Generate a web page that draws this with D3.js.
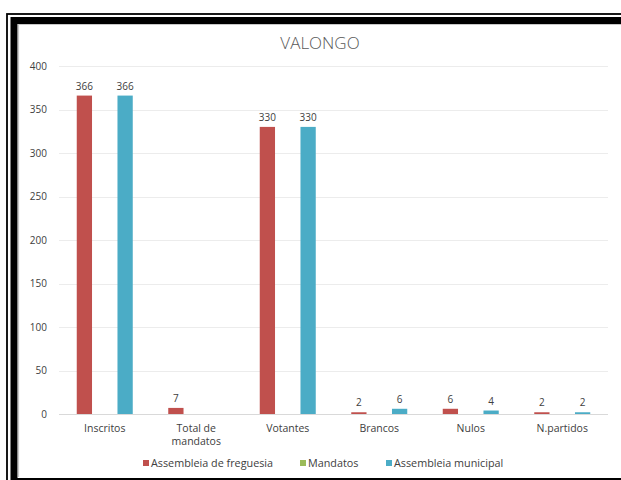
<!DOCTYPE html>
<html><head><meta charset="utf-8">
<script src="https://cdn.jsdelivr.net/npm/d3@7"></script>
<style>body{margin:0;background:#fff}svg{display:block}text{font-family:"Open Sans",sans-serif}</style>
</head><body><svg id="c" width="621" height="480"></svg>
<script>
const categories = ["Inscritos", "Total de mandatos", "Votantes", "Brancos", "Nulos", "N.partidos"];
const seriesNames = ["Assembleia de freguesia", "Mandatos", "Assembleia municipal"];
const assembleiaFreguesia = [366, 7, 330, 2, 6, 2];
const mandatos = [null, null, null, null, null, null];
const assembleiaMunicipal = [366, null, 330, 6, 4, 2];
const yTicks = [0, 50, 100, 150, 200, 250, 300, 350, 400];
const colors = ["#C0504D", "#9BBB59", "#4BACC6"];
const seriesValues = [assembleiaFreguesia, mandatos, assembleiaMunicipal];

const svg = d3.select("#c");
// frame
svg.append("rect").attr("x",7).attr("y",14).attr("width",700).attr("height",600)
  .attr("fill","none").attr("stroke","#000").attr("stroke-width",1.8);
svg.append("rect").attr("x",14).attr("y",20.5).attr("width",700).attr("height",461)
  .attr("fill","#fff").attr("stroke","#000").attr("stroke-width",7);
svg.append("line").attr("x1",18.5).attr("x2",18.5).attr("y1",24).attr("y2",477).attr("stroke","#c8c8c8").attr("stroke-width",1.2);
svg.append("line").attr("x1",18).attr("x2",621).attr("y1",24.5).attr("y2",24.5).attr("stroke","#c8c8c8").attr("stroke-width",1.2);

const plotLeft = 59, plotRight = 608, plotTop = 66, plotBottom = 414;
const x = d3.scaleBand().domain(categories).range([plotLeft, plotRight]);
const y = d3.scaleLinear().domain([0, 400]).range([plotBottom, plotTop]);
const x1 = d3.scaleBand().domain(seriesNames).range([-28, 28]).paddingInner(0.25).paddingOuter(0);

// grid
svg.append("g").selectAll("line").data(yTicks).join("line")
  .attr("x1", plotLeft).attr("x2", plotRight)
  .attr("y1", d => Math.round(y(d)) + 0.5).attr("y2", d => Math.round(y(d)) + 0.5)
  .attr("stroke", d => d === 0 ? "#d9d9d9" : "#ececec").attr("stroke-width", 1);

const yAxis = svg.append("g").attr("transform", `translate(${plotLeft},0)`)
  .call(d3.axisLeft(y).tickValues(yTicks).tickSize(0).tickPadding(12));
yAxis.select(".domain").remove();
yAxis.selectAll("text").attr("fill", "#404040").style("font-size", "10px").style("font-family","'Open Sans',sans-serif");

// title
svg.append("text").attr("x", 320).attr("y", 49).attr("text-anchor", "middle")
  .attr("fill", "#595959").style("font-size", "17px").style("font-weight","300").text("VALONGO");

// bars
seriesNames.forEach((s, si) => {
  const data = categories.map((c, i) => ({c, v: seriesValues[si][i]})).filter(d => d.v != null);
  const g = svg.append("g");
  g.selectAll("rect").data(data).join("rect")
    .attr("x", d => x(d.c) + x.bandwidth()/2 + x1(s))
    .attr("width", x1.bandwidth())
    .attr("y", d => y(d.v))
    .attr("height", d => y(0) - y(d.v))
    .attr("fill", colors[si]);
  g.selectAll("text").data(data).join("text")
    .attr("x", d => x(d.c) + x.bandwidth()/2 + x1(s) + x1.bandwidth()/2)
    .attr("y", d => y(d.v) - 6)
    .attr("text-anchor", "middle").attr("fill", "#404040").style("font-size", "10px")
    .text(d => d.v);
});

// category labels
const xl = svg.append("g");
categories.forEach(c => {
  const words = c === "Total de mandatos" ? ["Total de", "mandatos"] : [c];
  words.forEach((w, k) => {
    xl.append("text").attr("x", x(c) + x.bandwidth()/2).attr("y", 432 + k*13)
      .attr("text-anchor", "middle").attr("fill", "#404040").style("font-size", "10.5px").text(w);
  });
});

// legend
const legendX = [143, 300, 386];
seriesNames.forEach((s, i) => {
  svg.append("rect").attr("x", legendX[i]).attr("y", 460).attr("width", 6).attr("height", 6).attr("fill", colors[i]);
  svg.append("text").attr("x", legendX[i] + 8).attr("y", 467).attr("fill", "#404040").style("font-size", "10.8px").text(s);
});
</script></body></html>
